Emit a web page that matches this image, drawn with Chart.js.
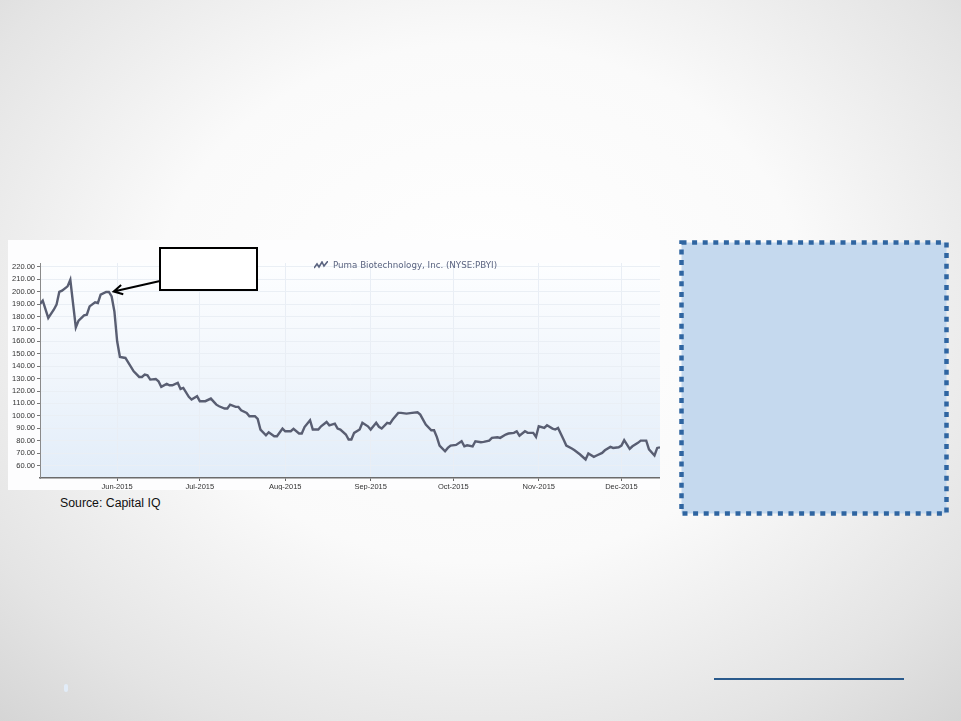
<!DOCTYPE html>
<html>
<head>
<meta charset="utf-8">
<script src="https://cdn.jsdelivr.net/npm/chart.js@4.4.1/dist/chart.umd.min.js"></script>
<style>
  html, body { margin: 0; padding: 0; }
  body {
    width: 961px; height: 721px; position: relative; overflow: hidden;
    background: radial-gradient(ellipse 75% 80% at 50% 42%, #ffffff 0%, #fafafa 45%, #e4e4e4 80%, #d4d4d4 100%);
    font-family: "Liberation Sans", Arial, sans-serif;
  }
  #chart-wrap { position: absolute; left: 8px; top: 240px; width: 652px; height: 250px; background: #fdfdfe; }
  #legend-title {
    position: absolute; left: 314px; top: 260px; font-family: "DejaVu Sans", Verdana, sans-serif;
    font-size: 8.7px; color: #5b6480; white-space: nowrap; display: flex; align-items: center; gap: 5px;
  }
  #source { position: absolute; left: 60px; top: 496px; font-size: 12.3px; color: #111; }
  #note-box { position: absolute; left: 679px; top: 240px; }
  #link-line { position: absolute; left: 714px; top: 678px; width: 190px; height: 2px; background: #2a5a8c; }
  #slide-num { position: absolute; left: 64px; top: 684px; width: 4px; height: 8px; background: #e2ecf8; border-radius: 2px; }
</style>
</head>
<body>
<div id="chart-wrap"><canvas id="price-chart" width="652" height="250"></canvas></div>
<div id="legend-title">
  <svg width="14" height="8" viewBox="0 0 14 8"><polyline points="0,7 3,3 5,6 8,1 10,5 14,0" fill="none" stroke="#5b6480" stroke-width="1.6"/></svg>
  <span>Puma Biotechnology, Inc. (NYSE:PBYI)</span>
</div>
<div id="source">Source: Capital IQ</div>
<svg id="note-box" width="270" height="276">
  <rect x="2.5" y="2.5" width="265" height="271" fill="#c5d9ee" stroke="#2f65a1" stroke-width="4.5" stroke-dasharray="5 5.6"/>
</svg>
<div id="link-line"></div>
<div id="slide-num"></div>

<script>
// Closing prices, PBYI, May - Dec 2015
const dates = [
  '2015-05-04','2015-05-05','2015-05-07','2015-05-09','2015-05-10','2015-05-11','2015-05-12','2015-05-14',
  '2015-05-15','2015-05-17','2015-05-18','2015-05-20','2015-05-21','2015-05-22','2015-05-24','2015-05-25',
  '2015-05-26','2015-05-28','2015-05-29','2015-05-30','2015-05-31','2015-06-01','2015-06-02','2015-06-04',
  '2015-06-05','2015-06-07','2015-06-09','2015-06-10','2015-06-11','2015-06-12','2015-06-13','2015-06-15',
  '2015-06-16','2015-06-17','2015-06-19','2015-06-20','2015-06-21','2015-06-23','2015-06-24','2015-06-25',
  '2015-06-27','2015-06-28','2015-06-30','2015-07-01','2015-07-03','2015-07-05','2015-07-07','2015-07-08',
  '2015-07-10','2015-07-11','2015-07-12','2015-07-14','2015-07-15','2015-07-16','2015-07-18','2015-07-19',
  '2015-07-21','2015-07-22','2015-07-23','2015-07-25','2015-07-26','2015-07-28','2015-07-29','2015-07-31',
  '2015-08-01','2015-08-03','2015-08-04','2015-08-06','2015-08-07','2015-08-08','2015-08-10','2015-08-11',
  '2015-08-13','2015-08-14','2015-08-16','2015-08-17','2015-08-19','2015-08-20','2015-08-21','2015-08-23',
  '2015-08-24','2015-08-25','2015-08-26','2015-08-28','2015-08-29','2015-08-31','2015-09-01','2015-09-03',
  '2015-09-04','2015-09-05','2015-09-07','2015-09-08','2015-09-09','2015-09-11','2015-09-12','2015-09-14',
  '2015-09-16','2015-09-18','2015-09-19','2015-09-20','2015-09-21','2015-09-23','2015-09-24','2015-09-25',
  '2015-09-26','2015-09-28','2015-09-29','2015-09-30','2015-10-02','2015-10-04','2015-10-05','2015-10-06',
  '2015-10-08','2015-10-09','2015-10-11','2015-10-12','2015-10-14','2015-10-15','2015-10-17','2015-10-18',
  '2015-10-20','2015-10-21','2015-10-23','2015-10-24','2015-10-25','2015-10-27','2015-10-28','2015-10-30',
  '2015-10-31','2015-11-01','2015-11-03','2015-11-04','2015-11-06','2015-11-07','2015-11-08','2015-11-10',
  '2015-11-11','2015-11-13','2015-11-14','2015-11-16','2015-11-18','2015-11-19','2015-11-21','2015-11-22',
  '2015-11-24','2015-11-25','2015-11-27','2015-11-28','2015-11-30','2015-12-01','2015-12-02','2015-12-04',
  '2015-12-05','2015-12-07','2015-12-08','2015-12-10','2015-12-11','2015-12-13','2015-12-14','2015-12-15'
];
const prices = [
  190.0, 192.7, 178.8, 185.4, 189.5, 199.7, 200.7, 204.2,
  209.5, 171.2, 176.6, 180.9, 181.4, 188.1, 191.3, 190.8,
  197.5, 199.7, 199.7, 196.1, 184.0, 160.0, 147.4, 146.6,
  143.0, 135.8, 131.3, 131.3, 133.2, 132.6, 129.2, 129.7,
  127.8, 123.3, 125.7, 124.6, 124.6, 126.5, 121.7, 122.5,
  115.3, 113.1, 115.8, 111.8, 111.8, 113.9, 109.0, 107.7,
  105.9, 105.9, 109.0, 107.2, 107.2, 104.5, 102.4, 99.7,
  99.7, 97.6, 89.0, 84.4, 86.8, 83.6, 83.6, 89.8,
  87.6, 87.6, 89.5, 85.8, 85.8, 91.0, 96.5, 89.0,
  89.0, 91.6, 95.1, 92.4, 93.8, 89.8, 89.0, 85.0,
  81.0, 81.0, 86.3, 89.0, 94.4, 91.6, 89.0, 94.4,
  91.2, 89.8, 94.4, 93.8, 97.0, 102.4, 102.4, 101.8,
  102.4, 102.9, 101.0, 97.0, 93.0, 88.4, 88.4, 83.1,
  76.1, 71.5, 74.2, 76.1, 76.6, 79.6, 75.5, 76.3,
  75.5, 79.6, 78.8, 79.1, 80.1, 82.3, 82.8, 82.3,
  85.0, 85.8, 86.3, 87.6, 84.1, 87.6, 86.3, 86.3,
  83.1, 91.6, 90.3, 92.4, 89.8, 89.0, 90.3, 81.0,
  76.1, 73.7, 72.3, 68.9, 64.9, 69.7, 67.0, 68.1,
  70.2, 72.3, 75.0, 74.2, 74.7, 76.1, 80.4, 73.4,
  75.5, 78.3, 80.1, 80.1, 73.0, 68.1, 74.2, 74.7
];

// Axis ticks
const monthTicks = ['2015-06-01','2015-07-01','2015-08-01','2015-09-01','2015-10-01','2015-11-01','2015-12-01'];
const monthLabels = ['Jun-2015','Jul-2015','Aug-2015','Sep-2015','Oct-2015','Nov-2015','Dec-2015'];
const yTicks = [60, 70, 80, 90, 100, 110, 120, 130, 140, 150, 160, 170, 180, 190, 200, 210, 220];

// Callout pointing at the late-May peak
const calloutDate = '2015-05-30';
const calloutValue = 200;

const toDay = s => Date.parse(s + 'T00:00:00Z') / 864e5;
const points = dates.map((d, i) => ({ x: toDay(d), y: prices[i] }));

/**
 * Light blue fade behind the plot area
 */
const plotBackground = {
    id: 'plotBackground',
    beforeDraw(chart) {
        const { ctx, chartArea: a } = chart;
        const g = ctx.createLinearGradient(0, a.top, 0, a.bottom);
        g.addColorStop(0, '#fdfeff');
        g.addColorStop(0.5, '#f1f6fc');
        g.addColorStop(1, '#e2edf9');
        ctx.save();
        ctx.fillStyle = g;
        ctx.fillRect(a.left, a.top, a.right - a.left, a.bottom - a.top);
        ctx.restore();
    }
};

/**
 * Empty callout box with an arrow to the peak
 */
const callout = {
    id: 'callout',
    afterDraw(chart) {
        const { ctx, scales } = chart;
        const tipX = scales.x.getPixelForValue(toDay(calloutDate)) + 2;
        const tipY = scales.y.getPixelForValue(calloutValue);
        const box = { x: 152, y: 8, w: 97, h: 42 };
        const fromX = box.x, fromY = box.y + 33;

        ctx.save();
        ctx.fillStyle = '#fff';
        ctx.fillRect(box.x, box.y, box.w, box.h);
        ctx.strokeStyle = '#000';
        ctx.lineWidth = 2;
        ctx.strokeRect(box.x, box.y, box.w, box.h);

        ctx.beginPath();
        ctx.moveTo(fromX, fromY);
        ctx.lineTo(tipX, tipY);
        const ang = Math.atan2(fromY - tipY, fromX - tipX);
        const len = 10;
        ctx.moveTo(tipX + len * Math.cos(ang - 0.5), tipY + len * Math.sin(ang - 0.5));
        ctx.lineTo(tipX, tipY);
        ctx.lineTo(tipX + len * Math.cos(ang + 0.5), tipY + len * Math.sin(ang + 0.5));
        ctx.stroke();
        ctx.restore();
    }
};

const tickFont = { family: '"Liberation Sans", Arial, sans-serif', size: 7.5 };

new Chart(document.getElementById('price-chart'), {
    type: 'line',
    data: {
        datasets: [{
            label: 'Puma Biotechnology, Inc. (NYSE:PBYI)',
            data: points,
            borderColor: '#595e72',
            borderWidth: 2.4,
            pointRadius: 0,
            tension: 0,
            fill: false
        }]
    },
    options: {
        responsive: false,
        animation: false,
        layout: { padding: { top: 23, right: 0, bottom: 0, left: 0 } },
        plugins: { legend: { display: false }, tooltip: { enabled: false } },
        scales: {
            x: {
                type: 'linear',
                min: toDay('2015-05-04'),
                max: toDay('2015-12-15'),
                afterFit: s => { s.height = 12; },
                afterBuildTicks: s => { s.ticks = monthTicks.map(m => ({ value: toDay(m) })); },
                ticks: {
                    autoSkip: false,
                    maxRotation: 0,
                    padding: 1,
                    color: '#333',
                    font: tickFont,
                    callback: (v, i) => monthLabels[i]
                },
                grid: { color: '#e9eef5', tickColor: '#666', tickLength: 3 },
                border: { color: '#6b6b6b', width: 1.5 }
            },
            y: {
                min: 50,
                max: 223,
                afterFit: s => { s.width = 32; },
                afterBuildTicks: s => { s.ticks = yTicks.map(v => ({ value: v })); },
                ticks: {
                    padding: 2,
                    color: '#333',
                    font: tickFont,
                    callback: v => v.toFixed(2)
                },
                grid: { color: '#eaeff5', tickColor: '#777', tickLength: 3 },
                border: { color: '#8a8a8a', width: 1 }
            }
        }
    },
    plugins: [plotBackground, callout]
});
</script>
</body>
</html>
